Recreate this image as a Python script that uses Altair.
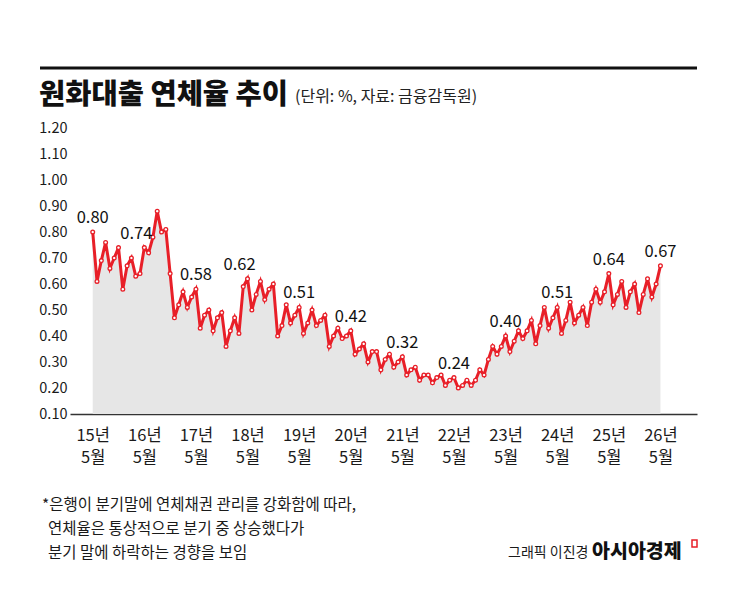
import json
import altair as alt
import pandas as pd

# Monthly KRW loan delinquency rate (%), May 2015 - May 2026
rates = [
    0.80, 0.61, 0.69, 0.76, 0.66, 0.70, 0.74, 0.58, 0.67, 0.70, 0.63, 0.64,
    0.74, 0.72, 0.78, 0.88, 0.80, 0.81, 0.64, 0.47, 0.52, 0.57, 0.51, 0.55,
    0.58, 0.43, 0.48, 0.50, 0.42, 0.47, 0.49, 0.36, 0.42, 0.47, 0.41, 0.59,
    0.62, 0.50, 0.56, 0.61, 0.54, 0.58, 0.60, 0.40, 0.44, 0.52, 0.45, 0.48,
    0.51, 0.41, 0.45, 0.50, 0.44, 0.46, 0.48, 0.36, 0.40, 0.43, 0.39, 0.40,
    0.42, 0.33, 0.35, 0.37, 0.30, 0.34, 0.34, 0.27, 0.31, 0.33, 0.28, 0.30,
    0.32, 0.25, 0.27, 0.28, 0.23, 0.25, 0.25, 0.22, 0.24, 0.25, 0.21, 0.23,
    0.24, 0.20, 0.21, 0.23, 0.21, 0.23, 0.27, 0.25, 0.31, 0.36, 0.33, 0.36,
    0.40, 0.34, 0.38, 0.42, 0.39, 0.42, 0.46, 0.37, 0.44, 0.51, 0.43, 0.47,
    0.51, 0.41, 0.46, 0.53, 0.45, 0.48, 0.51, 0.44, 0.53, 0.58, 0.53, 0.57,
    0.64, 0.52, 0.56, 0.61, 0.51, 0.57, 0.60, 0.49, 0.56, 0.62, 0.55, 0.60,
    0.67,
]
year_labels = ["15년", "16년", "17년", "18년", "19년", "20년",
               "21년", "22년", "23년", "24년", "25년", "26년"]
month_label = "5월"
y_ticks = [0.10, 0.20, 0.30, 0.40, 0.50, 0.60, 0.70, 0.80, 0.90, 1.00, 1.10, 1.20]

title_text = "원화대출 연체율 추이"
unit_text = "(단위: %, 자료: 금융감독원)"
note_lines = [
    "*은행이 분기말에 연체채권 관리를 강화함에 따라,",
    "연체율은 통상적으로  분기 중 상승했다가",
    "분기 말에 하락하는 경향을 보임",
]
credit_text = "그래픽 이진경"
brand_text = "아시아경제"

RED = "#e81f28"
NUM_FONT = "Noto Sans CJK KR, sans-serif"
KR_FONT = "Noto Sans CJK KR, sans-serif"

W, H = 627, 286

df = pd.DataFrame({"m": list(range(len(rates))), "rate": rates})
df["label"] = ["{:.2f}".format(v) if i % 12 == 0 else "" for i, v in enumerate(rates)]
may_idx = [i for i in range(len(rates)) if i % 12 == 0]

x_enc = alt.X(
    "m:Q",
    scale=alt.Scale(domain=[-5.28, 140.5], nice=False, zero=False),
    axis=alt.Axis(
        values=may_idx,
        labelExpr="[" + json.dumps(year_labels, ensure_ascii=False)
        + "[datum.value / 12], '" + month_label + "']",
        title=None, grid=False, ticks=False,
        domainColor="#333333", domainWidth=1.5,
        labelFont=NUM_FONT, labelFontSize=16.5, labelColor="#1a1a1a",
        labelPadding=13, labelLineHeight=22, labelFlush=False,
        labelOverlap=False,
    ),
)
y_enc = alt.Y(
    "rate:Q",
    scale=alt.Scale(domain=[0.10, 1.20], nice=False, zero=False),
    axis=alt.Axis(
        values=y_ticks, format=".2f", title=None, grid=False, ticks=False,
        domain=False, labelFont=NUM_FONT, labelFontSize=14.5,
        labelColor="#1a1a1a", labelPadding=3, labelOverlap=False,
        labelBound=False,
    ),
)

base = alt.Chart(df).encode(x=x_enc, y=y_enc)

area = base.mark_area(color="#e6e6e6", opacity=1).encode(y2=alt.datum(0.10))
line = base.mark_line(color=RED, strokeWidth=3, strokeJoin="miter")
points = base.mark_point(
    shape="circle", filled=False, fill="white", fillOpacity=1,
    stroke=RED, strokeWidth=1.3, size=14, opacity=1,
)

label_style = dict(font=NUM_FONT, fontSize=16.5, color="#111111",
                   baseline="alphabetic", align="center", dy=-9)
# May-value labels; the 2016 and 2018 ones sit a little left of their peaks
labels = base.transform_filter(
    "datum.label != '' && datum.m != 12 && datum.m != 36"
).mark_text(**label_style).encode(text="label:N")
labels_left = base.transform_filter(
    "datum.m == 12 || datum.m == 36"
).mark_text(dx=-8, **label_style).encode(text="label:N")


def note(text, x, y, size, weight="normal", color="#1a1a1a", **kw):
    return alt.Chart(pd.DataFrame({"t": [text]})).mark_text(
        font=KR_FONT, fontSize=size, fontWeight=weight, color=color,
        align="left", baseline="middle", **kw
    ).encode(text="t:N", x=alt.value(x), y=alt.value(y))


top_rule = alt.Chart(pd.DataFrame({"a": [0]})).mark_rule(
    color="#111111", strokeWidth=3
).encode(x=alt.value(-30), x2=alt.value(W), y=alt.value(-60))

title = note(title_text, -31, -33, 28.5, weight=900, color="#111111")
unit = note(unit_text, 225, -31, 16, color="#222222")
note1 = note(note_lines[0], -28, 377, 15.5)
note2 = note(note_lines[1], -22, 401, 15.5)
note3 = note(note_lines[2], -22, 425, 15.5)
credit = note(credit_text, 438, 425, 14)
brand = note(brand_text, 522, 424, 19.5, weight=900, color="#111111")
logo = alt.Chart(pd.DataFrame({"a": [0]})).mark_rect(
    fill="white", stroke=RED, strokeWidth=1.5
).encode(x=alt.value(622), x2=alt.value(627), y=alt.value(412), y2=alt.value(419))

chart = alt.layer(
    area, line, points, labels, labels_left, top_rule, title, unit,
    note1, note2, note3, credit, brand, logo
).properties(
    width=W, height=H,
    padding={"left": 70, "top": 128, "right": 48, "bottom": 192},
    autosize=alt.AutoSizeParams(type="none"),
    background="white",
).configure_view(stroke=None)

chart.save("out.html", embed_options={"renderer": "svg", "actions": False})
